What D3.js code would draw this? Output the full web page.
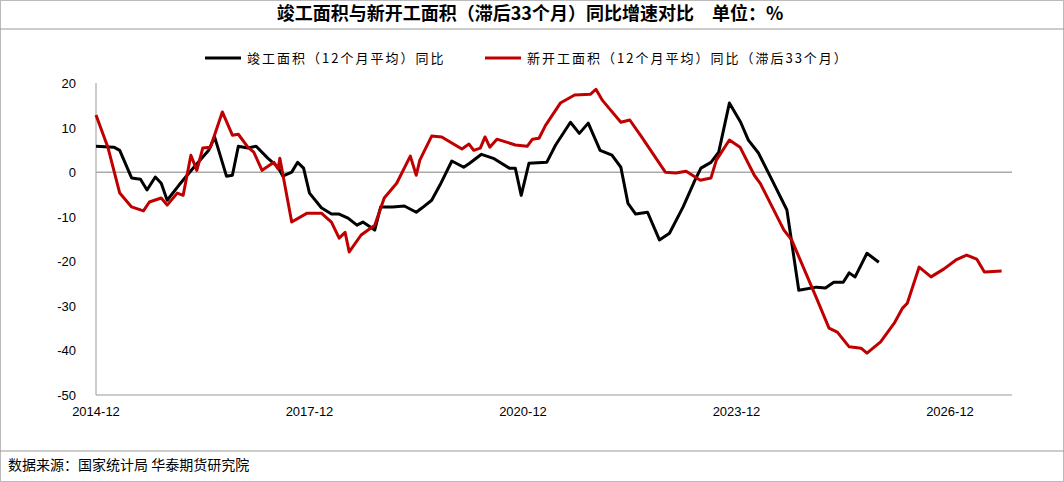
<!DOCTYPE html><html><head><meta charset="utf-8"><script src="https://cdn.jsdelivr.net/npm/d3@7"></script>
<style>body{margin:0;background:#fff;font-family:"Noto Sans CJK SC",sans-serif}</style></head><body><svg id="c" width="1064" height="482"></svg>
<script>
const title="竣工面积与新开工面积（滞后33个月）同比增速对比　单位：%";
const seriesNames=["竣工面积（12个月平均）同比","新开工面积（12个月平均）同比（滞后33个月）"];
const xTickLabels=["2014-12","2017-12","2020-12","2023-12","2026-12"];
const yTicks=[20,10,0,-10,-20,-30,-40,-50];
// months since 2014-12
const blackM=[0,3,4,6,7.5,8.6,10,11,12,14,16.5,19,20,22,23,24,25.6,27,29,30.7,31.5,33,34,35,36,38,39.7,41,42.5,44,45,47,48,50,52,54,55,56.6,58,60,62,63,65,67,69.7,70.7,71.7,73,76,77.5,80,81.5,83,85,87,88.5,89.7,91,93,95,96.7,99,101,102,103.7,105,106.8,108.7,110,111.7,114,116.5,117,118.5,121.5,123,124.4,126,127,128,130,132];
const blackV=[5.8,5.6,4.9,-1.3,-1.6,-4,-1.1,-2.5,-6.3,-2.9,1.1,4.9,7.9,-0.9,-0.7,5.8,5.4,5.8,3.1,1.1,-0.9,0,2.2,0.9,-4.7,-8,-9.4,-9.4,-10.3,-11.9,-11.2,-13,-7.8,-7.8,-7.6,-9,-8,-6.3,-2.9,2.5,1.1,2,4,3.1,0.9,0.9,-5.2,2,2.2,6.1,11.2,8.7,11,4.9,3.8,1.1,-7,-9.4,-9,-15.2,-13.7,-7.8,-1.8,0.9,2.2,4.5,15.5,11.2,7.2,4.3,-1.8,-8.5,-13,-26.5,-25.8,-26,-24.7,-24.7,-22.6,-23.5,-18.2,-20.2];
const redM=[0,2,4,6,8,9,11,12,13.7,14.7,16,17,18,19.3,21.3,23,24,25.6,26.6,28,30,30.7,31,33,35.6,38,39.7,41,42,42.7,44.7,47,48.6,50.7,53,54,54.6,56.6,58.3,61.7,62.9,63.7,64.8,65.6,66.4,67.6,70.7,72.7,73.6,74.7,75.8,78.3,80.7,83.4,84.3,85.4,88.5,90,92,96,97.8,99.5,101.9,103.7,104.6,106.8,108.6,111,112,116,117.3,121.4,123.6,125,127,129,130,132.3,134.6,136,136.8,138.8,140.8,143,145,146.8,148.5,149.8,152.7];
const redV=[12.8,5.6,-4.7,-7.8,-8.7,-6.7,-5.8,-7.4,-4.7,-5.2,3.8,0.4,5.4,5.6,13.5,8.3,8.5,5.6,4.5,0.4,2.2,0.7,3.1,-11.2,-9.2,-9.2,-11.2,-14.8,-13.5,-17.9,-14.1,-11.9,-5.8,-2.5,3.6,-0.7,2.7,8.1,7.9,5.2,6.3,4.9,5.4,7.9,5.6,7.4,6.1,5.8,7.4,7.6,10.5,15.5,17.3,17.5,18.6,16.1,11.2,11.7,7.9,0,-0.2,0.2,-1.8,-1.3,2.7,7.2,5.6,-0.7,-2.5,-13,-15.2,-28,-35,-35.9,-39.2,-39.5,-40.6,-38.1,-33.9,-30.5,-29.4,-21.3,-23.5,-21.7,-19.7,-18.6,-19.5,-22.4,-22.2];

const svg=d3.select("#c");
svg.append("rect").attr("x",0.5).attr("y",0.5).attr("width",1063).attr("height",481).attr("fill","none").attr("stroke","#bbb");
svg.append("text").attr("x",530).attr("y",20).attr("text-anchor","middle").attr("font-size",18).attr("font-weight","bold").text(title);
svg.append("line").attr("x1",0).attr("x2",1064).attr("y1",29).attr("y2",29).attr("stroke","#999");
svg.append("line").attr("x1",0).attr("x2",1064).attr("y1",451).attr("y2",451).attr("stroke","#999");
svg.append("text").attr("x",8).attr("y",470).attr("font-size",14).text("数据来源：国家统计局  华泰期货研究院");

const x=d3.scaleLinear().domain([0,36]).range([96,309.5]);
const y=d3.scaleLinear().domain([-50,20]).range([395,83]);
const g=svg.append("g");
g.append("line").attr("x1",96).attr("x2",96).attr("y1",83).attr("y2",395).attr("stroke","#999");
g.append("line").attr("x1",96).attr("x2",1012).attr("y1",y(0)).attr("y2",y(0)).attr("stroke","#aaa").attr("stroke-width",1.5);
g.append("line").attr("x1",96).attr("x2",1012).attr("y1",395).attr("y2",395).attr("stroke","#999");
yTicks.forEach(t=>g.append("text").attr("x",76).attr("y",y(t)+5).attr("text-anchor","end").attr("font-size",13).attr("font-family","Liberation Sans, Arial").text(t));
xTickLabels.forEach((t,i)=>g.append("text").attr("x",x(i*36)).attr("y",416).attr("text-anchor","middle").attr("font-size",13).attr("font-family","Liberation Sans, Arial").text(t));
const line=d3.line().x(d=>x(d[0])).y(d=>y(d[1]));
g.append("path").datum(blackM.map((m,i)=>[m,blackV[i]])).attr("d",line).attr("fill","none").attr("stroke","#000").attr("stroke-width",3).attr("stroke-linejoin","round");
g.append("path").datum(redM.map((m,i)=>[m,redV[i]])).attr("d",line).attr("fill","none").attr("stroke","#c00000").attr("stroke-width",3).attr("stroke-linejoin","round");
const lg=svg.append("g");
[[205,"#000",seriesNames[0]],[485,"#c00000",seriesNames[1]]].forEach(([lx,c,t])=>{
 lg.append("line").attr("x1",lx).attr("x2",lx+36).attr("y1",58).attr("y2",58).attr("stroke",c).attr("stroke-width",3);
 lg.append("text").attr("x",lx+42).attr("y",63).attr("font-size",13).attr("font-family","Noto Sans CJK SC").attr("letter-spacing","2").text(t);
});
</script></body></html>
